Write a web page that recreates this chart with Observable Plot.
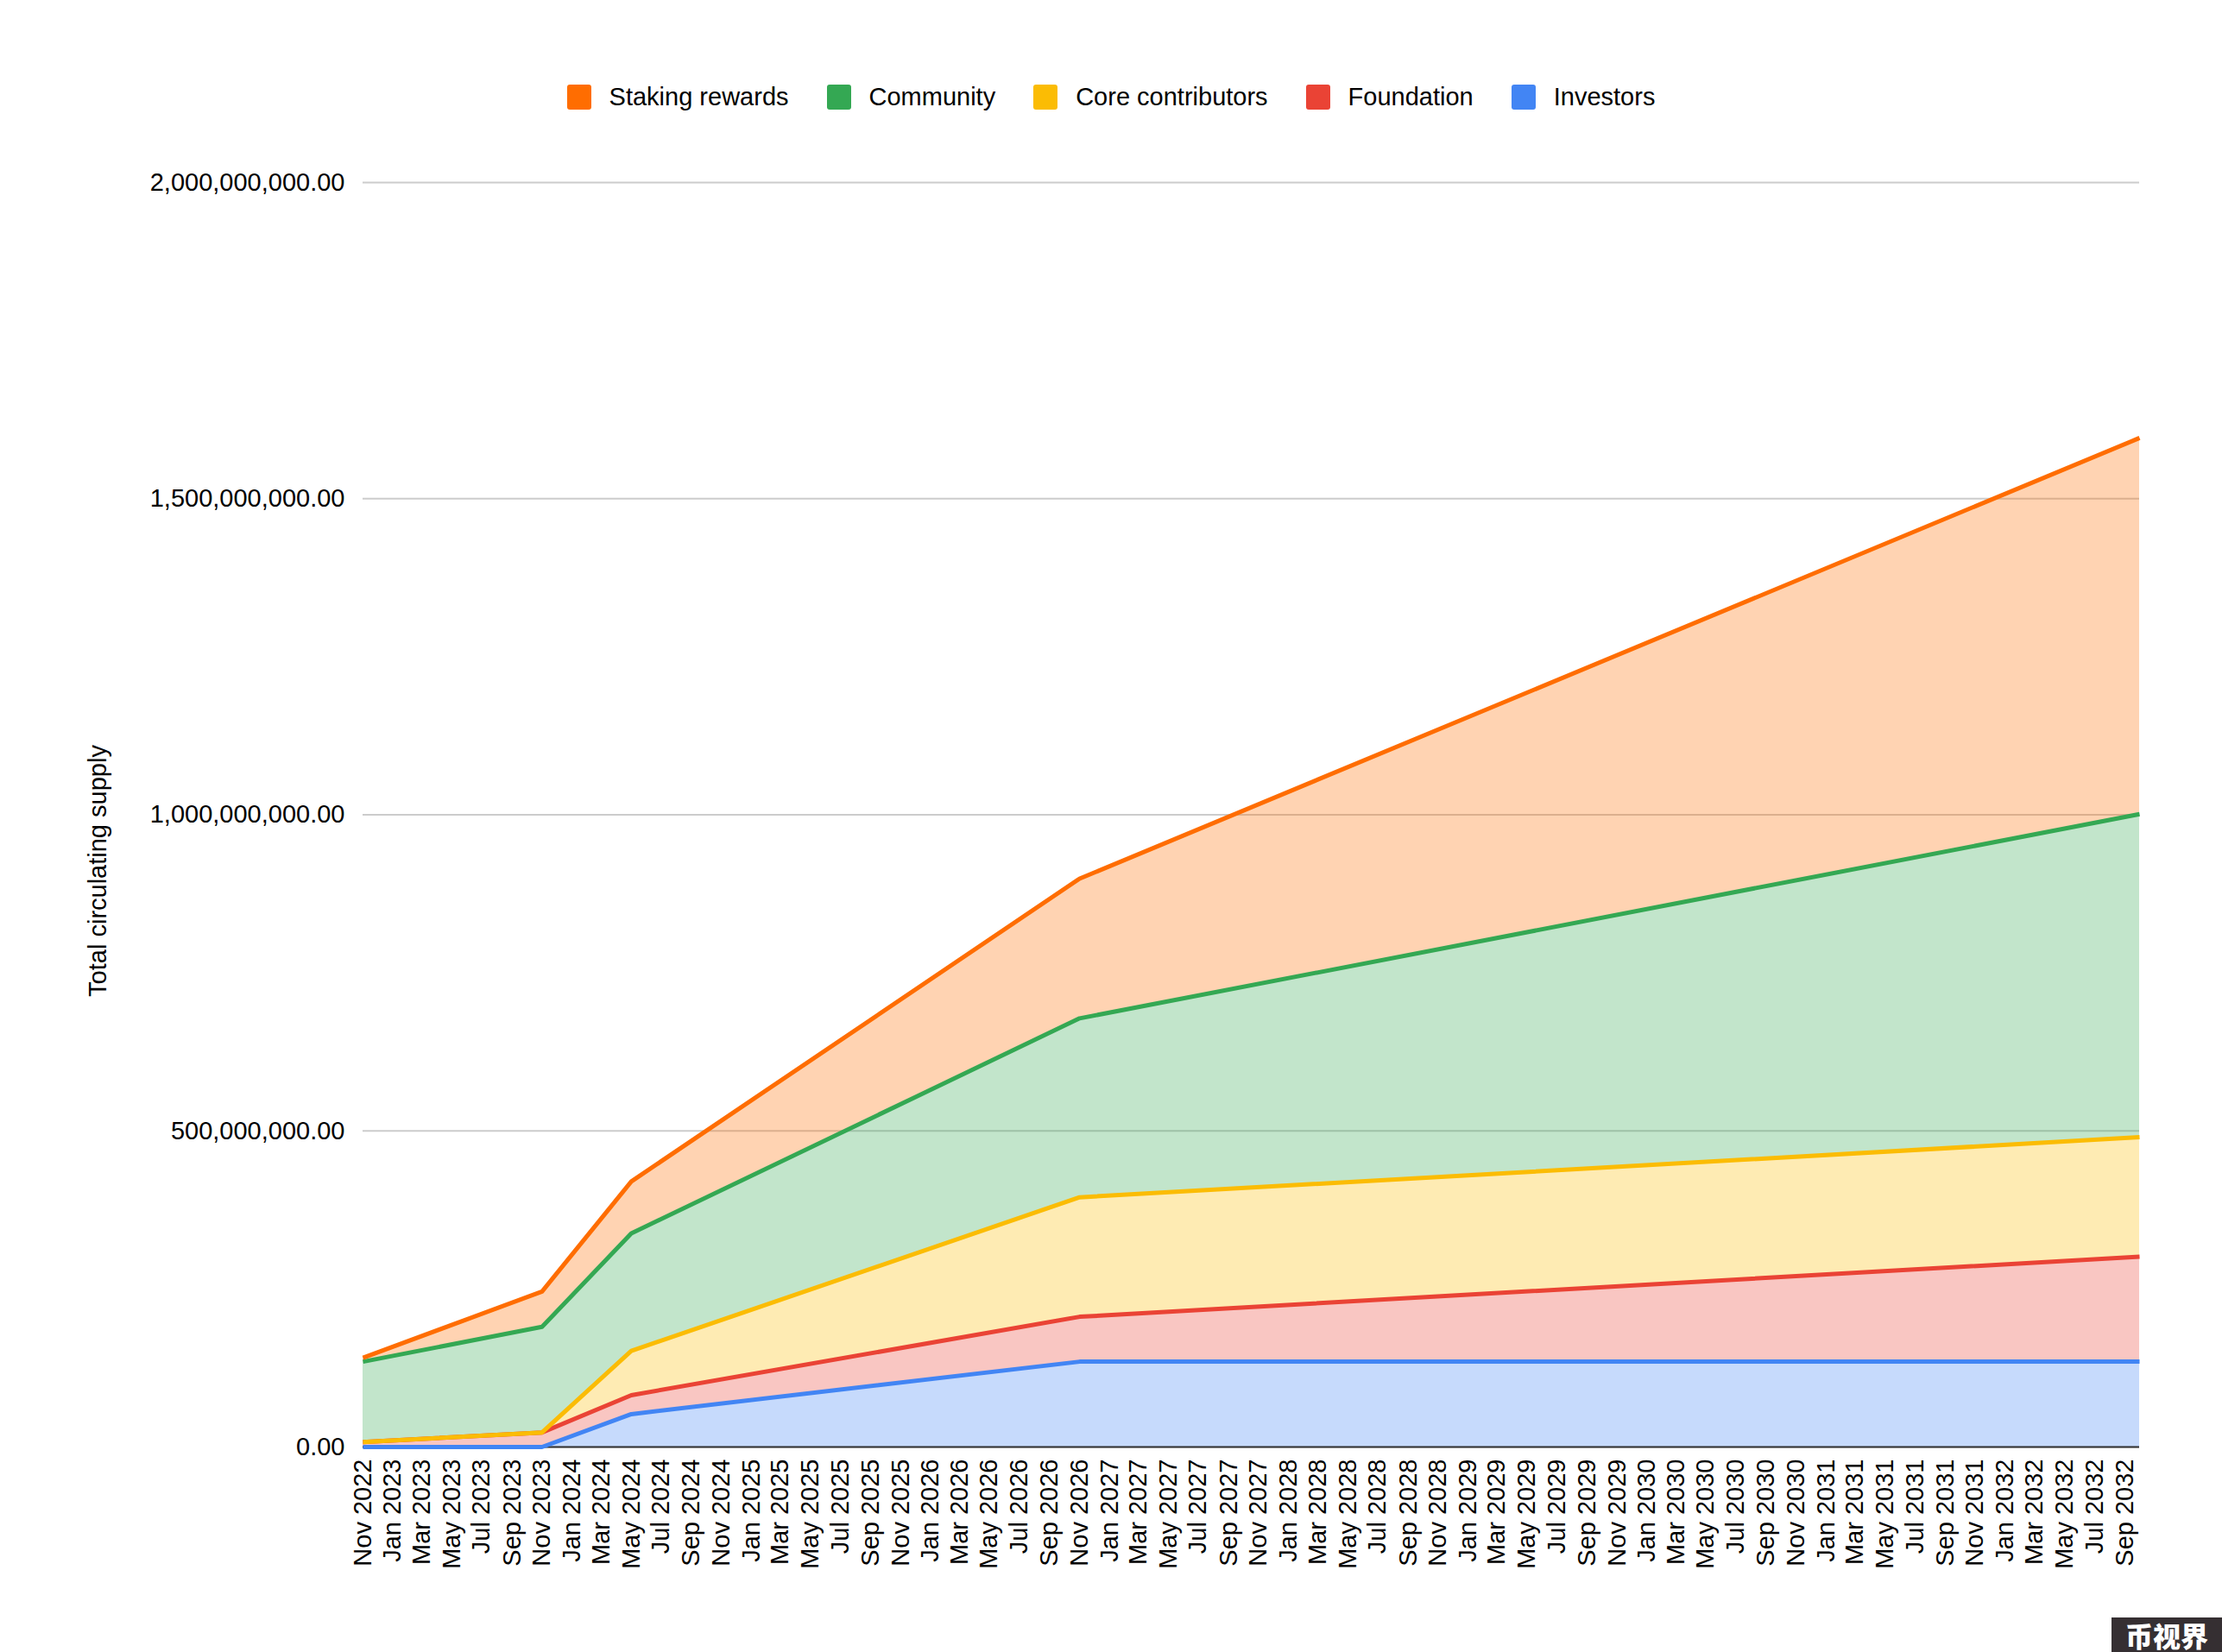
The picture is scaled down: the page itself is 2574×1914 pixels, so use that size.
<!DOCTYPE html>
<html>
<head>
<meta charset="utf-8">
<script src="https://cdn.jsdelivr.net/npm/d3@7"></script>
<script src="https://cdn.jsdelivr.net/npm/@observablehq/plot@0.6"></script>
<style>
  html, body { margin: 0; padding: 0; background: #fff; overflow: hidden; }
  body { width: 2574px; height: 1914px; position: relative; font-family: "Liberation Sans", Arial, sans-serif; color: #000; }
  #legend { height: 190px; box-sizing: border-box; padding-top: 98px; display: flex; justify-content: center; align-items: flex-start; font-size: 29px; line-height: 29px; }
  .item { display: flex; align-items: center; margin: 0 22px; }
  .swatch { width: 28px; height: 29px; border-radius: 3px; margin-right: 21px; }
  #mark { position: absolute; right: 0; bottom: 0; width: 128px; height: 40px; background: #352f32; color: #fff; font-family: "Noto Sans CJK SC"; font-weight: 900; font-size: 32px; line-height: 40px; text-align: center; }
  svg { display: block; }
</style>
</head>
<body>
<div id="legend"></div>
<div id="chart"></div>
<div id="mark">币视界</div>
<script>
const dates = ["2022-11-01", "2023-11-01", "2024-05-01", "2026-11-01", "2032-10-01"];
const legendOrder = ["Staking rewards", "Community", "Core contributors", "Foundation", "Investors"];
const stackOrder = ["Investors", "Foundation", "Core contributors", "Community", "Staking rewards"];
const colors = ["#FF6D01", "#34A853", "#FBBC04", "#EA4335", "#4285F4"];
const investors = [0, 0, 52e6, 135e6, 135e6];
const foundation = [8e6, 23e6, 30e6, 71e6, 166e6];
const coreContributors = [0, 0, 70e6, 189e6, 189e6];
const community = [127e6, 167e6, 186e6, 283e6, 511e6];
const stakingRewards = [6e6, 56e6, 82e6, 221e6, 595e6];
const yTicks = [0, 500e6, 1000e6, 1500e6, 2000e6];
const tickFirstYear = 2022, tickCount = 60;

const seriesValues = {
  "Investors": investors,
  "Foundation": foundation,
  "Core contributors": coreContributors,
  "Community": community,
  "Staking rewards": stakingRewards
};
const rows = stackOrder.flatMap(s => dates.map((d, i) => ({
  date: new Date(d + "T00:00:00Z"), series: s, value: seriesValues[s][i]
})));
const xTicks = d3.range(tickCount).map(i => new Date(Date.UTC(tickFirstYear, 10 + i * 2, 1)));

const legend = document.getElementById("legend");
legendOrder.forEach((s, i) => {
  const el = document.createElement("div");
  el.className = "item";
  const sw = document.createElement("div");
  sw.className = "swatch";
  sw.style.background = colors[i];
  const t = document.createElement("span");
  t.textContent = s;
  el.append(sw, t);
  legend.append(el);
});

const stackOpts = { x: "date", y: "value", z: "series", order: stackOrder };
const chart = Plot.plot({
  width: 2574,
  height: 1724,
  marginTop: 21,
  marginBottom: 238,
  marginLeft: 420,
  marginRight: 96,
  style: { fontFamily: "Liberation Sans, Arial, sans-serif", fontSize: "29px", color: "#000", background: "#fff" },
  x: { type: "utc", domain: [new Date("2022-11-01T00:00:00Z"), new Date("2032-10-01T00:00:00Z")] },
  y: { domain: [0, 2e9] },
  color: { domain: legendOrder, range: colors },
  marks: [
    Plot.gridY(yTicks, { stroke: "#ccc", strokeOpacity: 1, strokeWidth: 2 }),
    Plot.areaY(rows, { ...stackOpts, fill: "series", fillOpacity: 0.3 }),
    Plot.ruleY([0], { stroke: "#333", strokeWidth: 2 }),
    Plot.lineY(rows, Plot.stackY2({ ...stackOpts, stroke: "series", strokeWidth: 5, strokeLinecap: "butt", strokeLinejoin: "round" })),
    Plot.axisY(yTicks, { tickSize: 0, tickPadding: 21, tickFormat: d3.format(",.2f"), label: null, fontSize: 29 }),
    Plot.axisX(xTicks, { tickSize: 0, tickPadding: 14, tickRotate: -90, tickFormat: d3.utcFormat("%b %Y"), label: null, fontSize: 29 }),
    Plot.text(["Total circulating supply"], { frameAnchor: "left", rotate: -90, dx: -307, dy: 65, textAnchor: "middle", fontSize: 29, fill: "#000" })
  ]
});
document.getElementById("chart").append(chart);
</script>
</body>
</html>
